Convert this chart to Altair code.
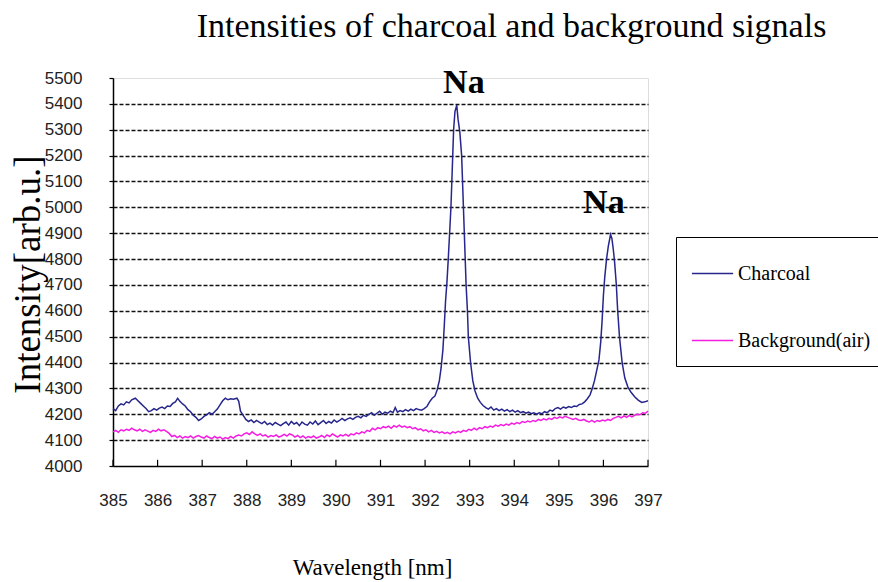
import altair as alt
import pandas as pd

# ---- data ----
series_names = ["Charcoal", "Background(air)"]
series_colors = ["#26268c", "#f41ee0"]

charcoal = [
    (385.00, 4222), (385.06, 4214), (385.12, 4232), (385.18, 4240), (385.24, 4236), (385.30, 4248),
    (385.36, 4244), (385.42, 4256), (385.50, 4262), (385.56, 4252), (385.62, 4242), (385.68, 4232),
    (385.74, 4222), (385.80, 4210), (385.86, 4214), (385.92, 4222), (385.98, 4216), (386.04, 4224),
    (386.10, 4228), (386.16, 4222), (386.22, 4232), (386.28, 4230), (386.34, 4242), (386.40, 4248),
    (386.45, 4262), (386.50, 4250), (386.56, 4240), (386.62, 4232), (386.68, 4218), (386.74, 4210),
    (386.80, 4196), (386.86, 4188), (386.92, 4176), (386.98, 4182), (387.04, 4192), (387.10, 4198),
    (387.16, 4206), (387.22, 4200), (387.28, 4210), (387.34, 4220), (387.40, 4236), (387.46, 4252),
    (387.52, 4262), (387.58, 4256), (387.64, 4260), (387.70, 4258), (387.78, 4262), (387.82, 4250),
    (387.86, 4212), (387.92, 4196), (387.98, 4180), (388.04, 4172), (388.10, 4178), (388.16, 4168),
    (388.22, 4176), (388.28, 4170), (388.34, 4164), (388.40, 4172), (388.46, 4160), (388.52, 4166),
    (388.58, 4158), (388.64, 4168), (388.70, 4162), (388.76, 4156), (388.82, 4164), (388.88, 4170),
    (388.94, 4158), (389.00, 4172), (389.06, 4162), (389.12, 4168), (389.18, 4156), (389.24, 4170),
    (389.30, 4162), (389.36, 4158), (389.42, 4170), (389.48, 4162), (389.54, 4174), (389.60, 4160),
    (389.66, 4168), (389.72, 4176), (389.78, 4164), (389.84, 4172), (389.90, 4166), (389.96, 4178),
    (390.02, 4170), (390.08, 4176), (390.14, 4184), (390.20, 4176), (390.26, 4182), (390.32, 4186),
    (390.38, 4180), (390.44, 4188), (390.50, 4192), (390.56, 4186), (390.62, 4196), (390.68, 4192),
    (390.74, 4200), (390.80, 4206), (390.86, 4196), (390.92, 4204), (390.98, 4212), (391.04, 4200),
    (391.10, 4208), (391.16, 4204), (391.22, 4212), (391.28, 4206), (391.33, 4226), (391.38, 4208),
    (391.44, 4214), (391.50, 4210), (391.56, 4218), (391.62, 4212), (391.68, 4220), (391.74, 4214),
    (391.80, 4222), (391.86, 4218), (391.92, 4216), (391.98, 4222), (392.04, 4230), (392.10, 4248),
    (392.16, 4262), (392.22, 4270), (392.27, 4294), (392.32, 4330), (392.36, 4380), (392.40, 4450),
    (392.43, 4540), (392.46, 4640), (392.49, 4710), (392.52, 4800), (392.55, 4900), (392.58, 5000),
    (392.60, 5100), (392.62, 5200), (392.64, 5300), (392.67, 5370), (392.71, 5395), (392.74, 5340),
    (392.78, 5290), (392.82, 5200), (392.84, 5100), (392.86, 5000), (392.88, 4900), (392.90, 4800),
    (392.92, 4700), (392.95, 4600), (392.97, 4500), (393.02, 4400), (393.07, 4330), (393.12, 4290),
    (393.18, 4262), (393.24, 4246), (393.30, 4234), (393.36, 4226), (393.42, 4220), (393.48, 4228),
    (393.54, 4216), (393.60, 4222), (393.66, 4214), (393.72, 4220), (393.78, 4212), (393.84, 4218),
    (393.90, 4210), (393.96, 4216), (394.02, 4208), (394.08, 4214), (394.14, 4206), (394.20, 4210),
    (394.26, 4204), (394.32, 4208), (394.38, 4202), (394.44, 4206), (394.50, 4200), (394.56, 4206),
    (394.62, 4202), (394.68, 4210), (394.74, 4206), (394.80, 4216), (394.86, 4212), (394.92, 4222),
    (394.98, 4226), (395.04, 4220), (395.10, 4228), (395.16, 4224), (395.22, 4230), (395.28, 4226),
    (395.34, 4232), (395.40, 4230), (395.46, 4238), (395.52, 4240), (395.58, 4248), (395.64, 4260),
    (395.70, 4275), (395.75, 4300), (395.80, 4330), (395.85, 4370), (395.90, 4410), (395.94, 4480),
    (395.97, 4560), (396.00, 4660), (396.03, 4730), (396.07, 4800), (396.11, 4850), (396.16, 4895),
    (396.19, 4880), (396.22, 4840), (396.25, 4790), (396.29, 4700), (396.32, 4600), (396.36, 4500),
    (396.42, 4400), (396.48, 4340), (396.55, 4305), (396.62, 4285), (396.70, 4268), (396.78, 4255),
    (396.86, 4246), (396.93, 4248), (397.00, 4252),
]

background = [
    (385.00, 4132), (385.06, 4138), (385.12, 4130), (385.18, 4140), (385.24, 4136), (385.30, 4142),
    (385.36, 4138), (385.42, 4146), (385.48, 4140), (385.54, 4136), (385.60, 4142), (385.66, 4134),
    (385.72, 4140), (385.78, 4135), (385.84, 4130), (385.90, 4138), (385.96, 4134), (386.02, 4142),
    (386.08, 4136), (386.14, 4140), (386.20, 4134), (386.26, 4126), (386.32, 4114), (386.38, 4118),
    (386.44, 4110), (386.50, 4116), (386.56, 4108), (386.62, 4114), (386.68, 4110), (386.74, 4116),
    (386.80, 4108), (386.86, 4114), (386.92, 4118), (386.98, 4112), (387.04, 4108), (387.10, 4116),
    (387.16, 4110), (387.22, 4106), (387.28, 4114), (387.34, 4108), (387.40, 4112), (387.46, 4104),
    (387.52, 4110), (387.58, 4106), (387.64, 4114), (387.70, 4108), (387.76, 4116), (387.82, 4120),
    (387.88, 4116), (387.94, 4124), (388.00, 4128), (388.06, 4122), (388.12, 4132), (388.18, 4124),
    (388.24, 4118), (388.30, 4124), (388.36, 4116), (388.42, 4120), (388.48, 4112), (388.54, 4118),
    (388.60, 4114), (388.66, 4120), (388.72, 4112), (388.78, 4116), (388.84, 4122), (388.90, 4116),
    (388.96, 4124), (389.02, 4120), (389.08, 4112), (389.14, 4118), (389.20, 4110), (389.26, 4116),
    (389.32, 4108), (389.38, 4114), (389.44, 4110), (389.50, 4116), (389.56, 4108), (389.62, 4112),
    (389.68, 4118), (389.74, 4110), (389.80, 4120), (389.86, 4114), (389.92, 4124), (389.98, 4118),
    (390.04, 4112), (390.10, 4120), (390.16, 4116), (390.22, 4122), (390.28, 4116), (390.34, 4124),
    (390.40, 4120), (390.46, 4128), (390.52, 4124), (390.58, 4132), (390.64, 4128), (390.70, 4138),
    (390.76, 4134), (390.82, 4146), (390.88, 4140), (390.94, 4148), (391.00, 4144), (391.06, 4152),
    (391.12, 4148), (391.18, 4154), (391.24, 4146), (391.30, 4156), (391.36, 4150), (391.42, 4158),
    (391.48, 4150), (391.54, 4154), (391.60, 4148), (391.66, 4152), (391.72, 4144), (391.78, 4148),
    (391.84, 4140), (391.90, 4144), (391.96, 4136), (392.02, 4140), (392.08, 4132), (392.14, 4138),
    (392.20, 4130), (392.26, 4134), (392.32, 4128), (392.38, 4132), (392.44, 4126), (392.50, 4130),
    (392.56, 4124), (392.62, 4132), (392.68, 4128), (392.74, 4134), (392.80, 4130), (392.86, 4138),
    (392.92, 4134), (392.98, 4142), (393.04, 4138), (393.10, 4146), (393.16, 4140), (393.22, 4148),
    (393.28, 4144), (393.34, 4152), (393.40, 4148), (393.46, 4154), (393.52, 4150), (393.58, 4158),
    (393.64, 4154), (393.70, 4160), (393.76, 4156), (393.82, 4162), (393.88, 4158), (393.94, 4166),
    (394.00, 4162), (394.06, 4168), (394.12, 4164), (394.18, 4172), (394.24, 4168), (394.30, 4174),
    (394.36, 4170), (394.42, 4176), (394.48, 4172), (394.54, 4180), (394.60, 4176), (394.66, 4182),
    (394.72, 4178), (394.78, 4184), (394.84, 4180), (394.90, 4188), (394.96, 4184), (395.02, 4190),
    (395.08, 4186), (395.14, 4192), (395.20, 4188), (395.26, 4184), (395.32, 4180), (395.38, 4184),
    (395.44, 4178), (395.50, 4176), (395.56, 4180), (395.62, 4174), (395.68, 4170), (395.74, 4176),
    (395.80, 4170), (395.86, 4176), (395.92, 4172), (395.98, 4178), (396.04, 4174), (396.10, 4180),
    (396.16, 4176), (396.22, 4184), (396.28, 4188), (396.34, 4192), (396.40, 4186), (396.46, 4194),
    (396.52, 4188), (396.58, 4196), (396.64, 4190), (396.70, 4196), (396.76, 4200), (396.82, 4198),
    (396.88, 4206), (396.94, 4204), (397.00, 4212),
]

x_tick_values = [385, 386, 387, 388, 389, 390, 391, 392, 393, 394, 395, 396, 397]
y_tick_values = [4000, 4100, 4200, 4300, 4400, 4500, 4600, 4700, 4800, 4900,
                 5000, 5100, 5200, 5300, 5400, 5500]

na_labels = ["Na", "Na"]
na_wavelength = [392.87, 396.01]
na_intensity = [5481, 5017]

# ---- tables ----
rows = []
for name, pts in zip(series_names, [charcoal, background]):
    for w, v in pts:
        rows.append({"Wavelength": w, "Intensity": v, "Series": name})
df = pd.DataFrame(rows)
ticks_df = pd.DataFrame({"Wavelength": x_tick_values})
na_df = pd.DataFrame({"Wavelength": na_wavelength, "Intensity": na_intensity, "label": na_labels})

SERIF = "Liberation Serif"
SANS = "Liberation Sans"

x_scale = alt.Scale(domain=[385, 397], nice=False, zero=False)
y_scale = alt.Scale(domain=[4000, 5500], nice=False, zero=False)

x_axis = alt.Axis(
    values=x_tick_values, title="Wavelength [nm]", grid=False, ticks=False,
    format="d", labelOverlap=False,
    labelFont=SANS, labelFontSize=17, labelColor="#222222", labelPadding=26,
    domainColor="black", domainWidth=1.5,
    titleFont=SERIF, titleFontSize=23, titleFontWeight="normal", titleColor="black",
    titleX=259, titleY=101, titleAlign="center", titleBaseline="middle",
    labelFlush=False,
)
y_axis = alt.Axis(
    values=y_tick_values, title="Intensity[arb.u.]", grid=True,
    format="d", labelOverlap=False,
    gridDash=[4, 2], gridColor="#111111", gridWidth=1.4,
    gridOpacity={"condition": {"test": "datum.value <= 4000 || datum.value >= 5500", "value": 0}, "value": 1},
    tickSize=4, tickColor="black", tickWidth=1.2,
    labelFont=SANS, labelFontSize=17, labelColor="#222222", labelPadding=27,
    domainColor="black", domainWidth=1.5,
    titleFont=SERIF, titleFontSize=37, titleFontWeight="normal", titleColor="black",
    titleX=-85, titleY=196, titleAngle=270, titleAlign="center", titleBaseline="middle",
)

lines = alt.Chart(df).mark_line(strokeWidth=1.5).encode(
    x=alt.X("Wavelength:Q", scale=x_scale, axis=x_axis),
    y=alt.Y("Intensity:Q", scale=y_scale, axis=y_axis),
    color=alt.Color(
        "Series:N",
        scale=alt.Scale(domain=series_names, range=series_colors),
        sort=series_names,
        legend=alt.Legend(
            title=None, orient="none", legendX=563, legendY=159,
            strokeColor="black", padding=15, symbolType="stroke",
            symbolSize=1700, symbolStrokeWidth=1.5,
            labelFont=SERIF, labelFontSize=20, labelColor="black",
            rowPadding=35, labelOffset=4,
        ),
    ),
)

inner_ticks = alt.Chart(ticks_df).mark_rule(color="black", strokeWidth=1.2).encode(
    x=alt.X("Wavelength:Q", scale=x_scale, axis=x_axis),
    y=alt.Y(datum=4000, type="quantitative", scale=y_scale, axis=y_axis),
    y2=alt.datum(4024),
)

na_text = alt.Chart(na_df).mark_text(
    font=SERIF, fontWeight="bold", fontSize=34, baseline="middle", align="center", color="black"
).encode(
    x=alt.X("Wavelength:Q", scale=x_scale, axis=x_axis),
    y=alt.Y("Intensity:Q", scale=y_scale, axis=y_axis),
    text="label:N",
)

chart = alt.layer(lines, inner_ticks, na_text).properties(
    width=535, height=388,
    title=alt.TitleParams(
        "Intensities of charcoal and background signals",
        font=SERIF, fontSize=34, fontWeight="normal", color="black",
        anchor="middle", dx=131, dy=45, offset=33, baseline="bottom",
    ),
    autosize=alt.AutoSizeParams(type="none"),
    padding={"left": 113, "top": 78, "right": 230, "bottom": 116},
).configure_view(
    stroke="#9a9a9a", strokeWidth=1.5
).configure(background="white")

chart.save("out.html", embed_options={"renderer": "svg", "actions": False})
